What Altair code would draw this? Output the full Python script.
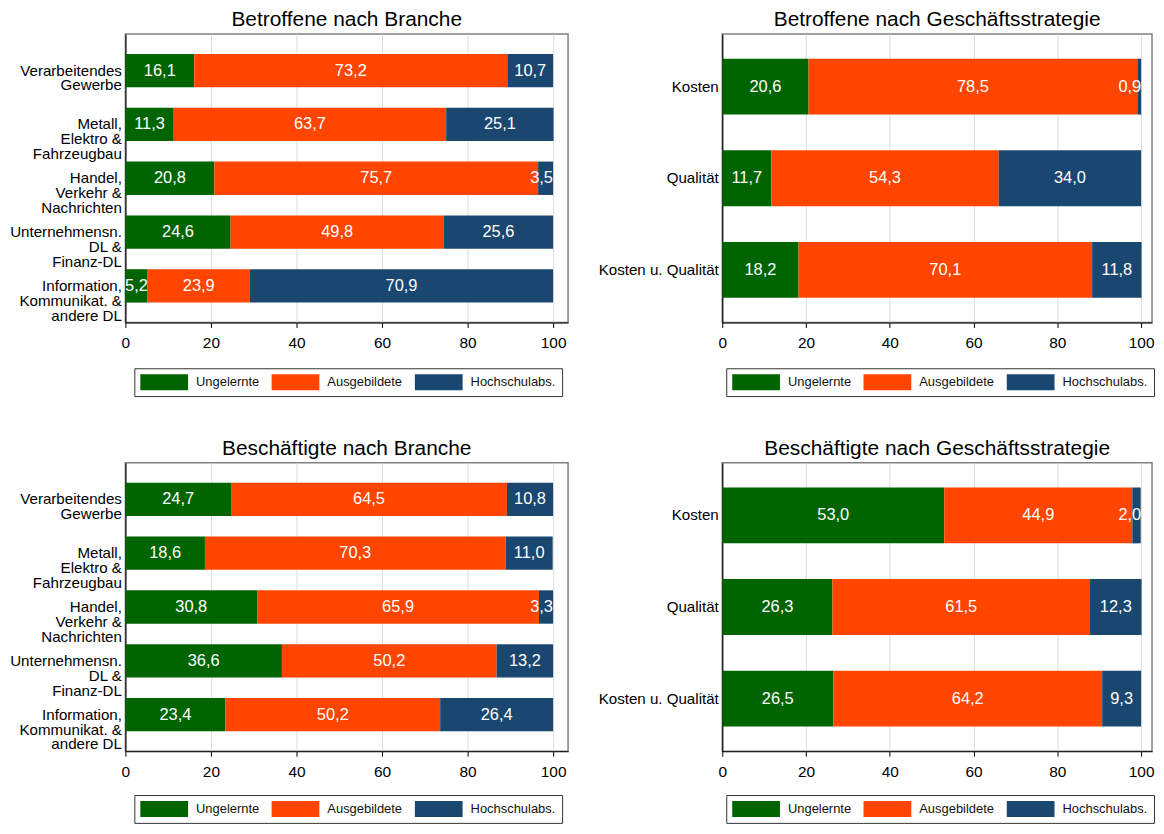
import altair as alt
import pandas as pd

FONT = "Liberation Sans"

series = ["Ungelernte", "Ausgebildete", "Hochschulabs."]
colors = ["#006400", "#FF4500", "#1A476F"]

branchen = [
    "Verarbeitendes\nGewerbe",
    "Metall,\nElektro &\nFahrzeugbau",
    "Handel,\nVerkehr &\nNachrichten",
    "Unternehmensn.\nDL &\nFinanz-DL",
    "Information,\nKommunikat. &\nandere DL",
]
strategien = ["Kosten", "Qualität", "Kosten u. Qualität"]

# Betroffene nach Branche
betr_branche_ungelernte = [16.1, 11.3, 20.8, 24.6, 5.2]
betr_branche_ausgebildete = [73.2, 63.7, 75.7, 49.8, 23.9]
betr_branche_hochschul = [10.7, 25.1, 3.5, 25.6, 70.9]

# Betroffene nach Geschäftsstrategie
betr_strat_ungelernte = [20.6, 11.7, 18.2]
betr_strat_ausgebildete = [78.5, 54.3, 70.1]
betr_strat_hochschul = [0.9, 34.0, 11.8]

# Beschäftigte nach Branche
besch_branche_ungelernte = [24.7, 18.6, 30.8, 36.6, 23.4]
besch_branche_ausgebildete = [64.5, 70.3, 65.9, 50.2, 50.2]
besch_branche_hochschul = [10.8, 11.0, 3.3, 13.2, 26.4]

# Beschäftigte nach Geschäftsstrategie
besch_strat_ungelernte = [53.0, 26.3, 26.5]
besch_strat_ausgebildete = [44.9, 61.5, 64.2]
besch_strat_hochschul = [2.0, 12.3, 9.3]

tick_values = [0, 20, 40, 60, 80, 100]

PLOT_H = 290


def make_df(cats, u, a, h):
    rows = []
    for i, c in enumerate(cats):
        for j, (s, vals) in enumerate(zip(series, [u, a, h])):
            v = vals[i]
            rows.append({"kat": c, "gruppe": s, "ord": j, "wert": v,
                         "label": f"{v:.1f}".replace(".", ",")})
    return pd.DataFrame(rows)


def panel(title, cats, u, a, h, width, xmax, pad_inner, pad_outer, legend_x, legend_gap):
    df = make_df(cats, u, a, h)
    # labels sit in the middle of each segment, but are kept inside the bar end
    base = alt.Chart(df).transform_stack(
        stack="wert", groupby=["kat"], as_=["x0", "x1"],
        sort=[alt.SortField("ord", order="ascending")]
    ).transform_calculate(mid="min((datum.x0 + datum.x1) / 2, 97.3)")

    xscale = alt.Scale(domain=[0, xmax], nice=False, zero=True)
    yscale = alt.Scale(paddingInner=pad_inner, paddingOuter=pad_outer)
    xaxis = alt.Axis(values=tick_values, grid=True, gridColor="#dcdcdc",
                     gridWidth=1, tickSize=5, labelPadding=8,
                     labelFlush=False, domainColor="black", domainWidth=1.2,
                     tickColor="black", labelFontSize=15.5, labelFont=FONT,
                     labelColor="black", format="d")
    yaxis = alt.Axis(labelExpr="split(datum.label, '\\n')", ticks=False,
                     labelPadding=4, labelFontSize=15.2, labelFont=FONT,
                     labelColor="black", labelLineHeight=15,
                     domainColor="black", domainWidth=1.2, labelLimit=300)

    bars = base.mark_bar(strokeWidth=0).encode(
        x=alt.X("x0:Q", scale=xscale, title=None, axis=xaxis),
        x2="x1:Q",
        y=alt.Y("kat:N", sort=cats, scale=yscale, title=None, axis=yaxis),
        color=alt.Color("gruppe:N", sort=series,
                        scale=alt.Scale(domain=series, range=colors),
                        legend=alt.Legend(
                            title=None, orient="none", legendX=legend_x,
                            legendY=PLOT_H + legend_gap,
                            direction="horizontal", columns=3,
                            symbolType="M-1,-1H5V1H-1Z", symbolSize=256,
                            symbolStrokeWidth=0, symbolOpacity=1,
                            labelOffset=40, labelFontSize=13, labelFont=FONT,
                            labelColor="#111111", columnPadding=12, padding=6,
                            strokeColor="#333333", fillColor="white")),
        order=alt.Order("ord:Q"),
    )
    text = base.mark_text(color="white", fontSize=16.5, font=FONT, baseline="middle",
                          align="center").encode(
        x=alt.X("mid:Q", scale=xscale, title=None, axis=xaxis),
        y=alt.Y("kat:N", sort=cats, scale=yscale, title=None, axis=yaxis),
        text="label:N",
    )
    return alt.layer(bars, text).properties(
        width=width, height=PLOT_H,
        title=alt.TitleParams(title, fontSize=21, font=FONT, fontWeight="normal",
                              color="black", anchor="middle", offset=4),
    )


p1 = panel("Betroffene nach Branche", branchen, betr_branche_ungelernte,
           betr_branche_ausgebildete, betr_branche_hochschul, 445, 103.5, 0.38, 0.37, 9, 46)
p2 = panel("Betroffene nach Geschäftsstrategie", strategien, betr_strat_ungelernte,
           betr_strat_ausgebildete, betr_strat_hochschul, 432, 102.6, 0.39, 0.27, 4, 46)
p3 = panel("Beschäftigte nach Branche", branchen, besch_branche_ungelernte,
           besch_branche_ausgebildete, besch_branche_hochschul, 445, 103.5, 0.38, 0.37, 9, 44)
p4 = panel("Beschäftigte nach Geschäftsstrategie", strategien, besch_strat_ungelernte,
           besch_strat_ausgebildete, besch_strat_hochschul, 432, 102.6, 0.39, 0.27, 4, 44)

row1 = alt.hconcat(p1, p2, spacing=28).resolve_scale(
    x="independent", y="independent", color="independent").resolve_legend(color="independent")
row2 = alt.hconcat(p3, p4, spacing=28).resolve_scale(
    x="independent", y="independent", color="independent").resolve_legend(color="independent")

chart = alt.vconcat(row1, row2, spacing=39).resolve_scale(
    x="independent", y="independent", color="independent").resolve_legend(
    color="independent").properties(
    padding={"left": 0, "top": -2, "right": 0, "bottom": 0},
    background="white",
).configure_view(stroke="#808080", strokeWidth=1.5)

chart.save("out.html", embed_options={"renderer": "svg", "actions": False})
